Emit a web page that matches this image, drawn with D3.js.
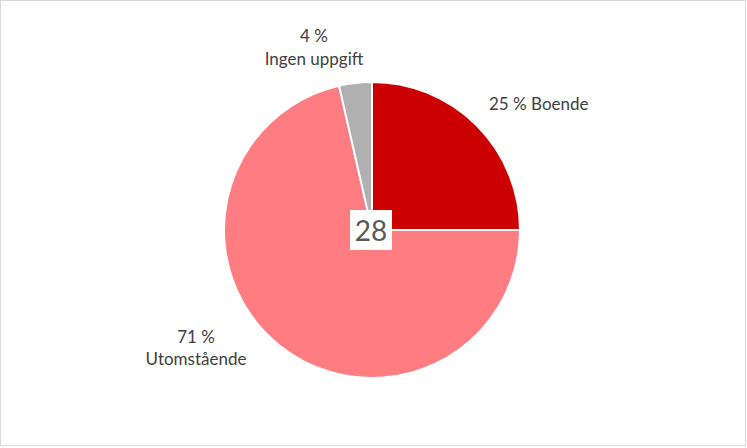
<!DOCTYPE html>
<html><head><meta charset="utf-8">
<script src="https://cdn.jsdelivr.net/npm/d3@7"></script>
<style>body{margin:0;background:#fff}svg{display:block}text{font-family:Lato,"Open Sans",sans-serif}</style>
</head><body>
<svg id="c" width="747" height="448"></svg>
<script>
const categories = ["Boende", "Utomstående", "Ingen uppgift"];
const values = [7, 20, 1];
const percentLabels = ["25 %", "71 %", "4 %"];
const colors = ["#cc0000", "#ff7c80", "#b0b0b0"];

const svg = d3.select("#c");
svg.append("rect").attr("x",0.5).attr("y",0.5).attr("width",745).attr("height",445)
  .attr("fill","#fff").attr("stroke","#d9d9d9").attr("stroke-width",1);

const cx = 372, cy = 230, r = 148;
const data = categories.map((c,i)=>({cat:c, value:values[i], pct:percentLabels[i], color:colors[i]}));
const pie = d3.pie().value(d=>d.value).sort(null);
const arc = d3.arc().innerRadius(0).outerRadius(r);
const g = svg.append("g").attr("transform",`translate(${cx},${cy})`);
g.selectAll("path").data(pie(data)).join("path")
  .attr("d",arc).attr("fill",d=>d.data.color).attr("stroke","#fff").attr("stroke-width",2);

const lab = svg.append("g").attr("fill","#404040").attr("font-size",17);
lab.append("text").attr("x",489).attr("y",110).text(data[0].pct+" "+data[0].cat);
lab.append("text").attr("x",196).attr("y",343).attr("text-anchor","middle").text(data[1].pct);
lab.append("text").attr("x",196).attr("y",365).attr("text-anchor","middle").text(data[1].cat);
lab.append("text").attr("x",314).attr("y",42).attr("text-anchor","middle").text(data[2].pct);
lab.append("text").attr("x",314).attr("y",65).attr("text-anchor","middle").text(data[2].cat);

svg.append("rect").attr("x",350).attr("y",210).attr("width",42).attr("height",40).attr("fill","#fff");
svg.append("text").attr("x",371).attr("y",241).attr("text-anchor","middle")
  .attr("font-size",28).attr("fill","#595959").text(d3.sum(values));
</script>
</body></html>
